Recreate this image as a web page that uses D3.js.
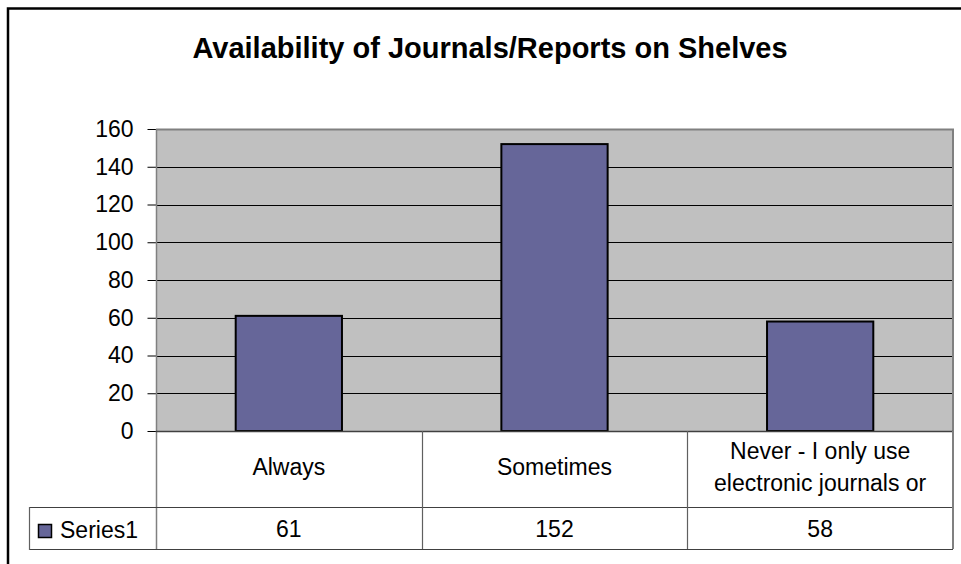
<!DOCTYPE html>
<html>
<head>
<meta charset="utf-8">
<script src="https://cdn.jsdelivr.net/npm/d3@7"></script>
<style>
  body { margin: 0; background: #fff; }
  svg text { font-family: "Liberation Sans", Arial, sans-serif; fill: #000; }
</style>
</head>
<body>
<div id="chart"></div>
<script>
// chart data
var categories = ["Always", "Sometimes", "Never - I only use electronic journals or"];
var categoryLines = [["Always"], ["Sometimes"], ["Never - I only use", "electronic journals or"]];
var seriesName = "Series1";
var values = [61, 152, 58];
var yTicks = [0, 20, 40, 60, 80, 100, 120, 140, 160];
var title = "Availability of Journals/Reports on Shelves";

var w = 961,
    h = 564;

var svg = d3.select("#chart")
    .append("svg")
    .attr("width", w)
    .attr("height", h);

// plot area box
var plotLeft = 156, plotRight = 953, plotTop = 129, plotBottom = 431;
var rowMid = 507, rowBottom = 549, legendLeft = 29;

// outer frame (runs off the right and bottom of the picture)
svg.append("rect")
    .attr("x", 8)
    .attr("y", 8.5)
    .attr("width", 1000)
    .attr("height", 600)
    .attr("fill", "none")
    .attr("stroke", "#000")
    .attr("stroke-width", 2.5);

// title
svg.append("text")
    .attr("x", 490)
    .attr("y", 58)
    .attr("text-anchor", "middle")
    .style("font-size", "29px")
    .style("font-weight", "bold")
    .text(title);

var x = d3.scaleBand()
    .domain(categories)
    .range([plotLeft, plotRight])
    .padding(0);

var y = d3.scaleLinear()
    .domain([0, 160])
    .range([plotBottom, plotTop]);

// grey background
svg.append("rect")
    .attr("x", plotLeft)
    .attr("y", plotTop)
    .attr("width", plotRight - plotLeft)
    .attr("height", plotBottom - plotTop)
    .attr("fill", "#c0c0c0");

// gridlines
svg.append("g")
    .selectAll("line")
    .data(yTicks.filter(function (d) { return d > 0 && d < 160; }))
    .enter()
    .append("line")
    .attr("x1", plotLeft)
    .attr("x2", plotRight)
    .attr("y1", function (d) { return Math.round(y(d)) + 0.5; })
    .attr("y2", function (d) { return Math.round(y(d)) + 0.5; })
    .attr("stroke", "#000")
    .attr("stroke-width", 1);

// top and right border of the plot
svg.append("path")
    .attr("d", "M" + plotLeft + "," + (plotTop + 0.5) + "H" + (plotRight) + "V" + plotBottom)
    .attr("fill", "none")
    .attr("stroke", "#808080")
    .attr("stroke-width", 2);

// bars
svg.append("g")
    .selectAll("rect")
    .data(values)
    .enter()
    .append("rect")
    .attr("x", function (d, i) { return x(categories[i]) + x.bandwidth() * 0.3; })
    .attr("width", x.bandwidth() * 0.4)
    .attr("y", function (d) { return y(d); })
    .attr("height", function (d) { return y(0) - y(d); })
    .attr("fill", "#666699")
    .attr("stroke", "#000")
    .attr("stroke-width", 2);

// y axis
var yAxis = d3.axisLeft(y)
    .tickValues(yTicks)
    .tickSize(9)
    .tickPadding(14);

var yG = svg.append("g")
    .attr("transform", "translate(" + (plotLeft + 0.5) + ",0)")
    .call(yAxis);

yG.select(".domain").remove();
yG.selectAll(".tick line").attr("stroke", "#000");
yG.selectAll(".tick text")
    .style("font-size", "23px")
    .attr("font-family", null);

svg.append("line")
    .attr("x1", plotLeft + 0.5)
    .attr("x2", plotLeft + 0.5)
    .attr("y1", plotTop)
    .attr("y2", rowBottom)
    .attr("stroke", "#808080")
    .attr("stroke-width", 1.5);

// data table under the chart
var table = svg.append("g");

table.append("line")
    .attr("x1", plotLeft).attr("x2", plotRight)
    .attr("y1", plotBottom + 0.5).attr("y2", plotBottom + 0.5)
    .attr("stroke", "#404040").attr("stroke-width", 1.5);

table.selectAll("line.row")
    .data([rowMid, rowBottom])
    .enter()
    .append("line")
    .attr("class", "row")
    .attr("x1", legendLeft).attr("x2", plotRight)
    .attr("y1", function (d) { return d + 0.5; })
    .attr("y2", function (d) { return d + 0.5; })
    .attr("stroke", "#404040")
    .attr("stroke-width", 1.2);

table.selectAll("line.col")
    .data(categories.slice(1))
    .enter()
    .append("line")
    .attr("class", "col")
    .attr("x1", function (d) { return Math.round(x(d)) + 0.5; })
    .attr("x2", function (d) { return Math.round(x(d)) + 0.5; })
    .attr("y1", plotBottom)
    .attr("y2", rowBottom)
    .attr("stroke", "#606060")
    .attr("stroke-width", 1.2);

table.append("line")
    .attr("x1", plotRight).attr("x2", plotRight)
    .attr("y1", plotBottom).attr("y2", rowBottom)
    .attr("stroke", "#808080").attr("stroke-width", 2);

table.append("line")
    .attr("x1", legendLeft + 0.5).attr("x2", legendLeft + 0.5)
    .attr("y1", rowMid).attr("y2", rowBottom + 1)
    .attr("stroke", "#606060").attr("stroke-width", 1.2);

// category labels
table.selectAll("text.cat")
    .data(categories)
    .enter()
    .append("text")
    .attr("class", "cat")
    .attr("text-anchor", "middle")
    .style("font-size", "23px")
    .each(function (d, i) {
        var lines = categoryLines[i];
        var cx = x(d) + x.bandwidth() / 2;
        d3.select(this).selectAll("tspan")
            .data(lines)
            .enter()
            .append("tspan")
            .attr("x", cx)
            .attr("y", function (t, j) { return 475 + (j - (lines.length - 1) / 2) * 32; })
            .text(function (t) { return t; });
    });

// value row
table.selectAll("text.val")
    .data(values)
    .enter()
    .append("text")
    .attr("class", "val")
    .attr("text-anchor", "middle")
    .attr("x", function (d, i) { return x(categories[i]) + x.bandwidth() / 2; })
    .attr("y", 537)
    .style("font-size", "23px")
    .text(function (d) { return d; });

// legend key in the table
table.append("rect")
    .attr("x", 38.5)
    .attr("y", 524.5)
    .attr("width", 13)
    .attr("height", 13)
    .attr("fill", "#666699")
    .attr("stroke", "#000")
    .attr("stroke-width", 1.5);

table.append("text")
    .attr("x", 60)
    .attr("y", 538)
    .style("font-size", "23px")
    .text(seriesName);
</script>
</body>
</html>
